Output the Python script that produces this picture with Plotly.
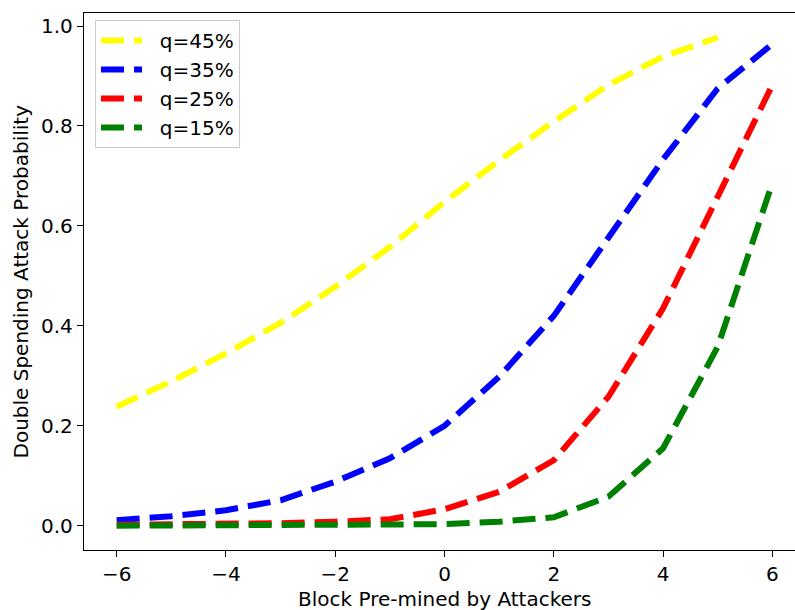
import plotly.graph_objects as go

# Blocks pre-mined by the attacker
blocks = [-6, -5, -4, -3, -2, -1, 0, 1, 2, 3, 4, 5, 6]
blocks_q45 = [-6, -5, -4, -3, -2, -1, 0, 1, 2, 3, 4, 5]

# Double-spending success probability for each attacker hash share q
p_q45 = [0.238, 0.289, 0.345, 0.406, 0.478, 0.558, 0.648, 0.731, 0.809, 0.882, 0.939, 0.977]
p_q35 = [0.011, 0.019, 0.031, 0.051, 0.088, 0.135, 0.200, 0.298, 0.420, 0.575, 0.733, 0.875, 0.964]
p_q25 = [0.002, 0.003, 0.003, 0.005, 0.008, 0.013, 0.033, 0.068, 0.131, 0.258, 0.435, 0.657, 0.882]
p_q15 = [0.000, 0.000, 0.000, 0.000, 0.000, 0.001, 0.003, 0.008, 0.017, 0.058, 0.155, 0.358, 0.686]

series = [
    ("q=45%", blocks_q45, p_q45, "#ffff00"),
    ("q=35%", blocks, p_q35, "#0000ff"),
    ("q=25%", blocks, p_q25, "#ff0000"),
    ("q=15%", blocks, p_q15, "#008000"),
]

x_ticks = [-6, -4, -2, 0, 2, 4, 6]
y_ticks = [0.0, 0.2, 0.4, 0.6, 0.8, 1.0]

FONT = "DejaVu Sans"
FS = 20

fig = go.Figure()
for name, xs, ys, color in series:
    fig.add_trace(go.Scatter(
        x=xs, y=ys, name="  " + name, mode="lines",
        line=dict(color=color, width=6, dash="23px,10px"),
    ))

fig.update_layout(
    width=795, height=610,
    margin=dict(l=84, r=0, t=13, b=60),
    paper_bgcolor="white", plot_bgcolor="white",
    font=dict(family=FONT, size=FS, color="black"),
    showlegend=True,
    legend=dict(
        x=0.0155, y=0.987, xanchor="left", yanchor="top",
        bgcolor="rgba(255,255,255,0.8)", bordercolor="#cccccc", borderwidth=1,
        font=dict(family=FONT, size=FS, color="black"),
        itemwidth=41,
    ),
    xaxis=dict(
        range=[-6.598, 6.415], tickvals=x_ticks,
        showgrid=False, zeroline=False,
        showline=True, linecolor="black", linewidth=1.3, mirror=True,
        ticks="outside", ticklen=6, tickwidth=1.3, tickcolor="black",
    ),
    yaxis=dict(
        range=[-0.0486, 1.0261], tickvals=y_ticks, tickformat=".1f",
        showgrid=False, zeroline=False,
        showline=True, linecolor="black", linewidth=1.3, mirror=False,
        ticks="outside", ticklen=6, tickwidth=1.3, tickcolor="black",
    ),
    annotations=[
        dict(text="Block Pre-mined by Attackers", xref="paper", yref="paper",
             x=0.5077, y=-0.0912, xanchor="center", yanchor="middle",
             showarrow=False, font=dict(family=FONT, size=FS, color="black")),
        dict(text="Double Spending Attack Probability", xref="paper", yref="paper",
             x=-0.09, y=0.5, xanchor="center", yanchor="middle", textangle=-90,
             showarrow=False, font=dict(family=FONT, size=FS, color="black")),
    ],
)

fig.write_html("out.html")
